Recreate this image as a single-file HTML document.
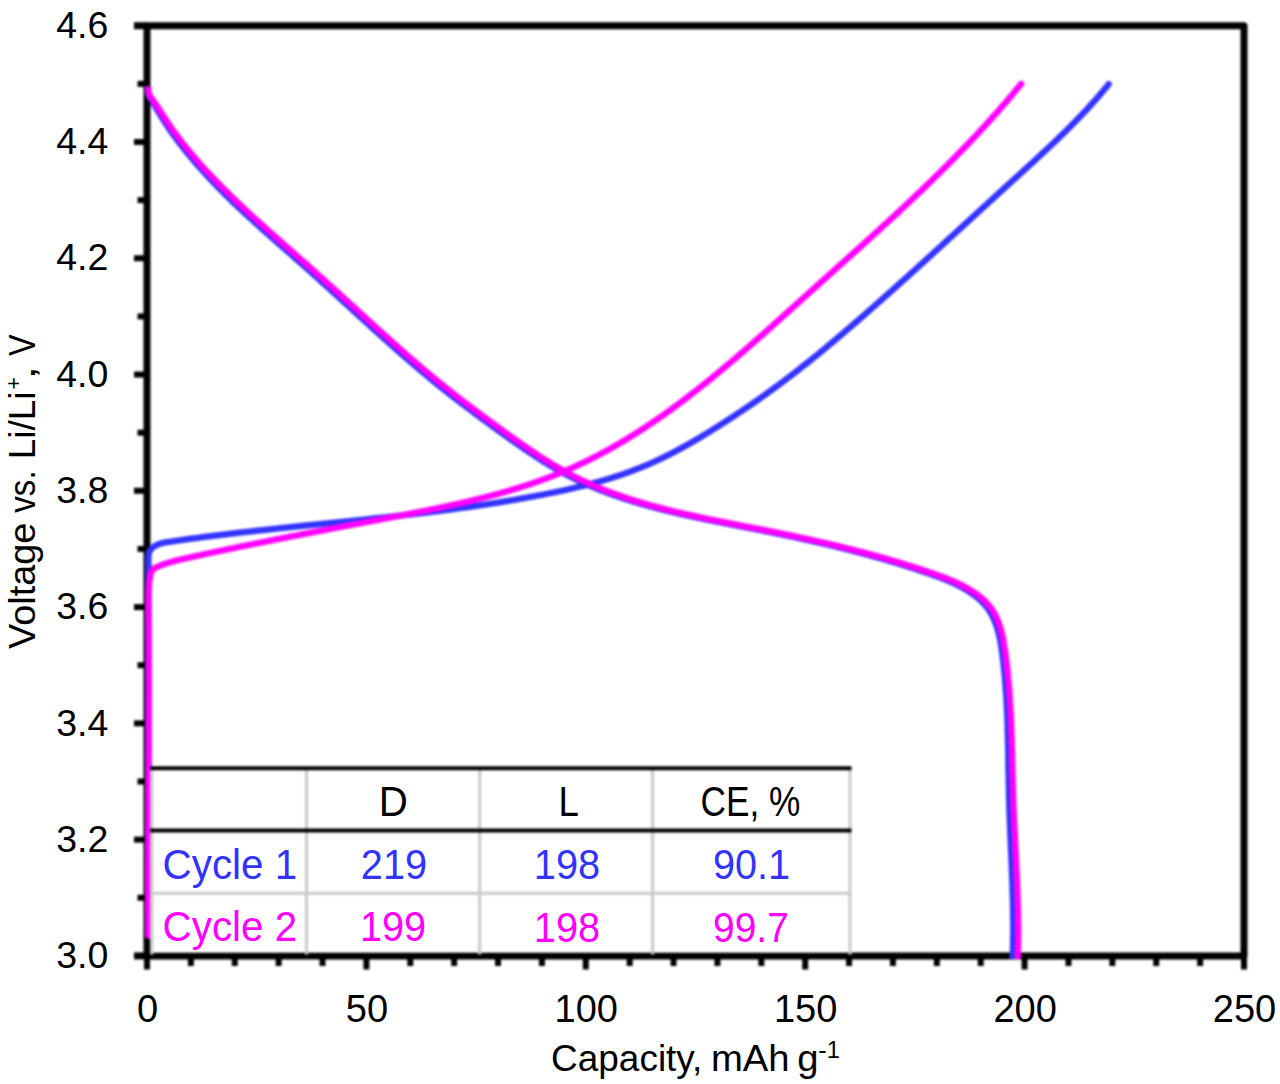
<!DOCTYPE html>
<html><head><meta charset="utf-8"><style>
html,body{margin:0;padding:0;background:#fff;}
body{width:1280px;height:1084px;overflow:hidden;position:relative;}
svg{position:absolute;left:0;top:0;}
#w{position:absolute;left:0;top:0;width:1280px;height:1084px;filter:blur(0.8px);}
text{font-family:"Liberation Sans", sans-serif;}
</style></head><body>
<div id="w">
<svg width="1280" height="1084" viewBox="0 0 1280 1084">
<rect x="0" y="0" width="1280" height="1084" fill="#fff"/>
<g stroke="#000" stroke-width="6" stroke-linecap="butt">
<line x1="137.5" y1="897.76" x2="147.0" y2="897.76"/><line x1="134" y1="839.62" x2="147.0" y2="839.62"/><line x1="137.5" y1="781.49" x2="147.0" y2="781.49"/><line x1="134" y1="723.35" x2="147.0" y2="723.35"/><line x1="137.5" y1="665.21" x2="147.0" y2="665.21"/><line x1="134" y1="607.08" x2="147.0" y2="607.08"/><line x1="137.5" y1="548.94" x2="147.0" y2="548.94"/><line x1="134" y1="490.80" x2="147.0" y2="490.80"/><line x1="137.5" y1="432.66" x2="147.0" y2="432.66"/><line x1="134" y1="374.53" x2="147.0" y2="374.53"/><line x1="137.5" y1="316.39" x2="147.0" y2="316.39"/><line x1="134" y1="258.25" x2="147.0" y2="258.25"/><line x1="137.5" y1="200.11" x2="147.0" y2="200.11"/><line x1="134" y1="141.97" x2="147.0" y2="141.97"/><line x1="137.5" y1="83.84" x2="147.0" y2="83.84"/><line x1="147.00" y1="955.9" x2="147.00" y2="969.5"/><line x1="190.88" y1="955.9" x2="190.88" y2="966"/><line x1="234.76" y1="955.9" x2="234.76" y2="966"/><line x1="278.64" y1="955.9" x2="278.64" y2="966"/><line x1="322.52" y1="955.9" x2="322.52" y2="966"/><line x1="366.40" y1="955.9" x2="366.40" y2="969.5"/><line x1="410.28" y1="955.9" x2="410.28" y2="966"/><line x1="454.16" y1="955.9" x2="454.16" y2="966"/><line x1="498.04" y1="955.9" x2="498.04" y2="966"/><line x1="541.92" y1="955.9" x2="541.92" y2="966"/><line x1="585.80" y1="955.9" x2="585.80" y2="969.5"/><line x1="629.68" y1="955.9" x2="629.68" y2="966"/><line x1="673.56" y1="955.9" x2="673.56" y2="966"/><line x1="717.44" y1="955.9" x2="717.44" y2="966"/><line x1="761.32" y1="955.9" x2="761.32" y2="966"/><line x1="805.20" y1="955.9" x2="805.20" y2="969.5"/><line x1="849.08" y1="955.9" x2="849.08" y2="966"/><line x1="892.96" y1="955.9" x2="892.96" y2="966"/><line x1="936.84" y1="955.9" x2="936.84" y2="966"/><line x1="980.72" y1="955.9" x2="980.72" y2="966"/><line x1="1024.60" y1="955.9" x2="1024.60" y2="969.5"/><line x1="1068.48" y1="955.9" x2="1068.48" y2="966"/><line x1="1112.36" y1="955.9" x2="1112.36" y2="966"/><line x1="1156.24" y1="955.9" x2="1156.24" y2="966"/><line x1="1200.12" y1="955.9" x2="1200.12" y2="966"/><line x1="1244.00" y1="955.9" x2="1244.00" y2="969.5"/>
</g>
<path d="M147.0,955.9 L147.0,25.7 L1244.0,25.7 L1244.0,955.9 Z" fill="none" stroke="#000" stroke-width="7" stroke-linejoin="round"/>
<line x1="134" y1="25.7" x2="147.0" y2="25.7" stroke="#000" stroke-width="7"/>
<line x1="134" y1="955.9" x2="147.0" y2="955.9" stroke="#000" stroke-width="7"/>
<g fill="none" stroke-width="6.3" stroke-linejoin="round">
<path d="M148.6,935.4 L148.6,933.7 L148.6,932.1 L148.6,930.4 L148.6,928.8 L148.6,927.1 L148.6,925.4 L148.6,923.8 L148.6,922.1 L148.6,920.4 L148.6,918.8 L148.6,917.1 L148.6,915.5 L148.6,913.8 L148.6,912.1 L148.6,910.5 L148.6,908.8 L148.6,907.2 L148.6,905.5 L148.6,903.8 L148.6,902.2 L148.6,900.5 L148.6,898.8 L148.6,897.2 L148.6,895.5 L148.6,893.9 L148.6,892.2 L148.6,890.5 L148.6,888.9 L148.6,887.2 L148.6,885.5 L148.6,883.9 L148.6,882.2 L148.6,880.6 L148.6,878.9 L148.6,877.2 L148.6,875.6 L148.6,873.9 L148.6,872.2 L148.6,870.6 L148.6,868.9 L148.6,867.3 L148.6,865.6 L148.6,863.9 L148.6,862.3 L148.6,860.6 L148.6,858.9 L148.6,857.3 L148.6,855.6 L148.6,854.0 L148.6,852.3 L148.6,850.6 L148.6,849.0 L148.6,847.3 L148.6,845.6 L148.6,844.0 L148.6,842.3 L148.6,840.7 L148.6,839.0 L148.6,837.3 L148.6,835.7 L148.6,834.0 L148.6,832.3 L148.6,830.7 L148.6,829.0 L148.6,827.4 L148.6,825.7 L148.6,824.0 L148.6,822.4 L148.6,820.7 L148.6,819.0 L148.6,817.4 L148.6,815.7 L148.6,814.0 L148.6,812.4 L148.6,810.7 L148.6,809.1 L148.6,807.4 L148.6,805.7 L148.6,804.1 L148.6,802.4 L148.6,800.7 L148.6,799.1 L148.6,797.4 L148.6,795.8 L148.6,794.1 L148.6,792.4 L148.6,790.8 L148.6,789.1 L148.6,787.4 L148.6,785.8 L148.6,784.1 L148.6,782.4 L148.6,780.8 L148.6,779.1 L148.6,777.5 L148.6,775.8 L148.6,774.1 L148.6,772.5 L148.6,770.8 L148.6,769.1 L148.6,767.5 L148.6,765.8 L148.6,764.2 L148.6,762.5 L148.6,760.8 L148.6,759.2 L148.6,757.5 L148.6,755.8 L148.6,754.2 L148.6,752.5 L148.6,750.8 L148.6,749.2 L148.6,747.5 L148.6,745.9 L148.6,744.2 L148.6,742.5 L148.6,740.9 L148.6,739.2 L148.6,737.5 L148.6,735.9 L148.6,734.2 L148.6,732.6 L148.6,730.9 L148.6,729.2 L148.6,727.6 L148.6,725.9 L148.6,724.2 L148.6,722.6 L148.6,720.9 L148.6,719.3 L148.6,717.6 L148.6,715.9 L148.6,714.3 L148.6,712.6 L148.6,710.9 L148.6,709.3 L148.6,707.6 L148.6,706.0 L148.6,704.3 L148.6,702.6 L148.6,701.0 L148.7,699.3 L148.7,697.6 L148.7,696.0 L148.7,694.3 L148.7,692.7 L148.7,691.0 L148.7,689.3 L148.7,687.7 L148.7,686.0 L148.7,684.3 L148.7,682.7 L148.7,681.0 L148.7,679.4 L148.7,677.7 L148.6,676.0 L148.6,674.4 L148.6,672.7 L148.6,671.1 L148.6,669.4 L148.6,667.7 L148.6,666.1 L148.6,664.4 L148.6,662.7 L148.6,661.1 L148.6,659.4 L148.6,657.8 L148.6,656.1 L148.6,654.4 L148.6,652.8 L148.6,651.1 L148.6,649.5 L148.6,647.8 L148.6,646.1 L148.6,644.5 L148.6,642.8 L148.6,641.2 L148.6,639.5 L148.6,637.8 L148.6,636.2 L148.6,634.5 L148.6,632.8 L148.6,631.2 L148.6,629.5 L148.6,627.9 L148.6,626.2 L148.6,624.5 L148.6,622.9 L148.6,621.2 L148.6,619.6 L148.6,617.9 L148.6,616.2 L148.6,614.6 L148.6,612.9 L148.6,611.3 L148.6,609.6 L148.6,607.9 L148.6,606.3 L148.6,604.6 L148.6,603.0 L148.6,601.3 L148.6,599.6 L148.6,598.0 L148.6,596.3 L148.6,594.7 L148.6,593.0 L148.6,591.3 L148.5,589.7 L148.5,588.0 L148.5,586.4 L148.5,584.7 L148.5,583.0 L148.5,581.3 L148.5,579.7 L148.5,578.0 L148.5,576.3 L148.5,574.6 L148.5,573.0 L148.5,571.3 L148.5,569.6 L148.4,567.9 L148.4,566.2 L148.4,564.5 L148.4,562.8 L148.4,561.1 L148.4,559.4 L148.4,557.6 L148.4,556.0 L148.6,554.3 L149.0,552.8 L149.5,551.4 L150.3,550.1 L151.2,548.9 L152.3,547.8 L153.5,546.9 L154.9,546.0 L156.2,545.3 L157.7,544.6 L159.2,544.1 L160.7,543.5 L162.3,543.1 L164.0,542.7 L165.6,542.4 L167.3,542.1 L169.0,541.8 L170.7,541.6 L172.4,541.3 L174.1,541.1 L175.8,540.8 L177.5,540.6 L179.2,540.4 L180.9,540.1 L182.6,539.9 L184.3,539.6 L185.9,539.4 L187.6,539.2 L189.3,539.0 L191.0,538.7 L192.7,538.5 L194.3,538.3 L196.0,538.1 L197.7,537.8 L199.4,537.6 L201.0,537.4 L202.7,537.2 L204.4,537.0 L206.0,536.7 L207.7,536.5 L209.4,536.3 L211.0,536.1 L212.7,535.9 L214.3,535.7 L216.0,535.5 L217.7,535.3 L219.3,535.1 L221.0,534.9 L222.6,534.7 L224.3,534.5 L225.9,534.3 L227.6,534.1 L229.2,533.9 L230.9,533.7 L232.5,533.5 L234.2,533.3 L235.8,533.1 L237.4,532.9 L239.1,532.7 L240.7,532.5 L242.4,532.4 L244.0,532.2 L245.7,532.0 L247.3,531.8 L248.9,531.6 L250.6,531.4 L252.2,531.3 L253.8,531.1 L255.5,530.9 L257.1,530.7 L258.7,530.5 L260.4,530.3 L262.0,530.2 L263.7,530.0 L265.3,529.8 L266.9,529.6 L268.6,529.5 L270.2,529.3 L271.8,529.1 L273.5,528.9 L275.1,528.8 L276.7,528.6 L278.4,528.4 L280.0,528.2 L281.6,528.1 L283.3,527.9 L284.9,527.7 L286.5,527.6 L288.2,527.4 L289.8,527.2 L291.4,527.1 L293.1,526.9 L294.7,526.7 L296.3,526.5 L298.0,526.4 L299.6,526.2 L301.2,526.0 L302.9,525.9 L304.5,525.7 L306.2,525.5 L307.8,525.4 L309.4,525.2 L311.1,525.0 L312.7,524.9 L314.4,524.7 L316.0,524.5 L317.7,524.4 L319.3,524.2 L320.9,524.0 L322.6,523.9 L324.2,523.7 L325.9,523.5 L327.5,523.4 L329.2,523.2 L330.8,523.0 L332.5,522.8 L334.1,522.7 L335.8,522.5 L337.4,522.3 L339.1,522.2 L340.7,522.0 L342.4,521.8 L344.0,521.7 L345.7,521.5 L347.3,521.3 L349.0,521.2 L350.6,521.0 L352.3,520.8 L353.9,520.6 L355.6,520.5 L357.2,520.3 L358.9,520.1 L360.5,519.9 L362.2,519.8 L363.8,519.6 L365.5,519.4 L367.1,519.2 L368.8,519.1 L370.4,518.9 L372.1,518.7 L373.7,518.5 L375.4,518.4 L377.1,518.2 L378.7,518.0 L380.4,517.8 L382.0,517.6 L383.7,517.5 L385.3,517.3 L387.0,517.1 L388.6,516.9 L390.3,516.7 L392.0,516.6 L393.6,516.4 L395.3,516.2 L396.9,516.0 L398.6,515.8 L400.2,515.6 L401.9,515.4 L403.6,515.2 L405.2,515.1 L406.9,514.9 L408.5,514.7 L410.2,514.5 L411.8,514.3 L413.5,514.1 L415.2,513.9 L416.8,513.7 L418.5,513.5 L420.1,513.3 L421.8,513.1 L423.4,512.9 L425.1,512.7 L426.7,512.5 L428.4,512.3 L430.1,512.1 L431.7,511.9 L433.4,511.7 L435.0,511.5 L436.7,511.3 L438.3,511.0 L440.0,510.8 L441.7,510.6 L443.3,510.4 L445.0,510.2 L446.6,510.0 L448.3,509.8 L449.9,509.5 L451.6,509.3 L453.2,509.1 L454.9,508.9 L456.5,508.7 L458.2,508.4 L459.9,508.2 L461.5,508.0 L463.2,507.7 L464.8,507.5 L466.5,507.3 L468.1,507.0 L469.8,506.8 L471.4,506.6 L473.1,506.3 L474.7,506.1 L476.4,505.9 L478.0,505.6 L479.7,505.4 L481.3,505.1 L483.0,504.9 L484.6,504.6 L486.3,504.4 L487.9,504.1 L489.6,503.9 L491.2,503.6 L492.9,503.4 L494.5,503.1 L496.2,502.8 L497.8,502.6 L499.4,502.3 L501.1,502.0 L502.7,501.8 L504.4,501.5 L506.0,501.2 L507.7,501.0 L509.3,500.7 L511.0,500.4 L512.6,500.1 L514.2,499.9 L515.9,499.6 L517.5,499.3 L519.2,499.0 L520.8,498.7 L522.4,498.4 L524.1,498.1 L525.7,497.8 L527.3,497.5 L529.0,497.2 L530.6,496.9 L532.3,496.6 L533.9,496.3 L535.5,496.0 L537.2,495.7 L538.8,495.4 L540.4,495.1 L542.1,494.8 L543.7,494.5 L545.3,494.2 L546.9,493.8 L548.6,493.5 L550.2,493.2 L551.8,492.9 L553.5,492.5 L555.1,492.2 L556.7,491.8 L558.3,491.5 L560.0,491.2 L561.6,490.8 L563.2,490.5 L564.8,490.1 L566.4,489.8 L568.0,489.4 L569.7,489.0 L571.3,488.7 L572.9,488.3 L574.5,487.9 L576.1,487.5 L577.7,487.2 L579.3,486.8 L580.9,486.4 L582.6,486.0 L584.2,485.6 L585.8,485.2 L587.4,484.8 L589.0,484.3 L590.6,483.9 L592.2,483.5 L593.8,483.1 L595.4,482.6 L596.9,482.2 L598.5,481.8 L600.1,481.3 L601.7,480.9 L603.3,480.4 L604.9,479.9 L606.5,479.5 L608.1,479.0 L609.6,478.5 L611.2,478.0 L612.8,477.5 L614.4,477.0 L615.9,476.5 L617.5,476.0 L619.1,475.5 L620.6,475.0 L622.2,474.4 L623.8,473.9 L625.3,473.3 L626.9,472.8 L628.4,472.2 L630.0,471.7 L631.5,471.1 L633.1,470.5 L634.6,469.9 L636.2,469.3 L637.7,468.7 L639.3,468.1 L640.8,467.5 L642.3,466.9 L643.9,466.3 L645.4,465.6 L646.9,465.0 L648.5,464.3 L650.0,463.7 L651.5,463.0 L653.0,462.3 L654.5,461.6 L656.1,460.9 L657.6,460.2 L659.1,459.5 L660.6,458.8 L662.1,458.1 L663.6,457.4 L665.1,456.6 L666.6,455.9 L668.1,455.1 L669.6,454.4 L671.0,453.6 L672.5,452.9 L674.0,452.1 L675.5,451.3 L677.0,450.5 L678.4,449.7 L679.9,448.9 L681.4,448.1 L682.9,447.3 L684.3,446.5 L685.8,445.7 L687.3,444.9 L688.7,444.0 L690.2,443.2 L691.6,442.4 L693.1,441.5 L694.5,440.7 L696.0,439.9 L697.4,439.0 L698.9,438.2 L700.3,437.3 L701.7,436.4 L703.2,435.6 L704.6,434.7 L706.0,433.8 L707.5,433.0 L708.9,432.1 L710.3,431.2 L711.7,430.3 L713.2,429.4 L714.6,428.6 L716.0,427.7 L717.4,426.8 L718.8,425.9 L720.2,425.0 L721.6,424.1 L723.0,423.2 L724.4,422.3 L725.8,421.4 L727.2,420.5 L728.6,419.6 L730.0,418.7 L731.4,417.8 L732.8,416.9 L734.2,416.0 L735.6,415.1 L736.9,414.1 L738.3,413.2 L739.7,412.3 L741.1,411.4 L742.5,410.5 L743.8,409.5 L745.2,408.6 L746.6,407.7 L747.9,406.7 L749.3,405.8 L750.7,404.9 L752.0,403.9 L753.4,403.0 L754.7,402.0 L756.1,401.1 L757.5,400.2 L758.8,399.2 L760.2,398.3 L761.5,397.3 L762.9,396.3 L764.2,395.4 L765.5,394.4 L766.9,393.5 L768.2,392.5 L769.6,391.5 L770.9,390.6 L772.2,389.6 L773.6,388.6 L774.9,387.6 L776.2,386.7 L777.6,385.7 L778.9,384.7 L780.2,383.7 L781.5,382.7 L782.9,381.7 L784.2,380.8 L785.5,379.8 L786.8,378.8 L788.1,377.8 L789.5,376.8 L790.8,375.8 L792.1,374.8 L793.4,373.7 L794.7,372.7 L796.0,371.7 L797.3,370.7 L798.6,369.7 L799.9,368.7 L801.2,367.6 L802.5,366.6 L803.8,365.6 L805.1,364.6 L806.4,363.5 L807.7,362.5 L809.0,361.5 L810.3,360.4 L811.6,359.4 L812.9,358.3 L814.2,357.3 L815.5,356.3 L816.8,355.2 L818.1,354.2 L819.4,353.1 L820.6,352.0 L821.9,351.0 L823.2,349.9 L824.5,348.9 L825.8,347.8 L827.1,346.8 L828.3,345.7 L829.6,344.6 L830.9,343.6 L832.2,342.5 L833.4,341.4 L834.7,340.3 L836.0,339.3 L837.3,338.2 L838.5,337.1 L839.8,336.0 L841.1,335.0 L842.3,333.9 L843.6,332.8 L844.9,331.7 L846.1,330.6 L847.4,329.6 L848.7,328.5 L849.9,327.4 L851.2,326.3 L852.5,325.2 L853.7,324.1 L855.0,323.0 L856.2,322.0 L857.5,320.9 L858.7,319.8 L860.0,318.7 L861.3,317.6 L862.5,316.5 L863.8,315.4 L865.0,314.3 L866.3,313.2 L867.5,312.1 L868.8,311.0 L870.0,309.9 L871.3,308.8 L872.5,307.7 L873.8,306.6 L875.0,305.5 L876.3,304.4 L877.5,303.3 L878.8,302.2 L880.0,301.1 L881.3,300.0 L882.5,298.9 L883.7,297.8 L885.0,296.7 L886.2,295.6 L887.5,294.5 L888.7,293.4 L889.9,292.3 L891.2,291.2 L892.4,290.1 L893.7,289.0 L894.9,287.9 L896.1,286.8 L897.4,285.7 L898.6,284.5 L899.9,283.4 L901.1,282.3 L902.3,281.2 L903.6,280.1 L904.8,279.0 L906.0,277.9 L907.3,276.8 L908.5,275.7 L909.7,274.6 L911.0,273.4 L912.2,272.3 L913.4,271.2 L914.7,270.1 L915.9,269.0 L917.1,267.9 L918.3,266.8 L919.6,265.6 L920.8,264.5 L922.0,263.4 L923.3,262.3 L924.5,261.2 L925.7,260.1 L927.0,259.0 L928.2,257.8 L929.4,256.7 L930.6,255.6 L931.9,254.5 L933.1,253.4 L934.3,252.3 L935.5,251.1 L936.8,250.0 L938.0,248.9 L939.2,247.8 L940.4,246.7 L941.7,245.5 L942.9,244.4 L944.1,243.3 L945.3,242.2 L946.6,241.1 L947.8,239.9 L949.0,238.8 L950.2,237.7 L951.5,236.6 L952.7,235.5 L953.9,234.3 L955.1,233.2 L956.4,232.1 L957.6,231.0 L958.8,229.9 L960.0,228.7 L961.3,227.6 L962.5,226.5 L963.7,225.4 L964.9,224.2 L966.2,223.1 L967.4,222.0 L968.6,220.9 L969.8,219.8 L971.1,218.6 L972.3,217.5 L973.5,216.4 L974.7,215.3 L976.0,214.2 L977.2,213.0 L978.4,211.9 L979.6,210.8 L980.9,209.7 L982.1,208.5 L983.3,207.4 L984.5,206.3 L985.8,205.2 L987.0,204.1 L988.2,202.9 L989.4,201.8 L990.7,200.7 L991.9,199.6 L993.1,198.4 L994.3,197.3 L995.6,196.2 L996.8,195.1 L998.0,194.0 L999.2,192.8 L1000.5,191.7 L1001.7,190.6 L1002.9,189.5 L1004.2,188.4 L1005.4,187.2 L1006.6,186.1 L1007.9,185.0 L1009.1,183.9 L1010.3,182.8 L1011.5,181.6 L1012.8,180.5 L1014.0,179.4 L1015.2,178.3 L1016.5,177.2 L1017.7,176.0 L1018.9,174.9 L1020.2,173.8 L1021.4,172.7 L1022.6,171.6 L1023.9,170.4 L1025.1,169.3 L1026.3,168.2 L1027.5,167.1 L1028.8,166.0 L1030.0,164.8 L1031.2,163.7 L1032.5,162.6 L1033.7,161.5 L1034.9,160.3 L1036.1,159.2 L1037.4,158.1 L1038.6,156.9 L1039.8,155.8 L1041.0,154.7 L1042.2,153.5 L1043.5,152.4 L1044.7,151.3 L1045.9,150.1 L1047.1,149.0 L1048.3,147.9 L1049.5,146.7 L1050.7,145.6 L1051.9,144.4 L1053.2,143.3 L1054.4,142.2 L1055.6,141.0 L1056.8,139.9 L1058.0,138.7 L1059.1,137.5 L1060.3,136.4 L1061.5,135.2 L1062.7,134.1 L1063.9,132.9 L1065.1,131.7 L1066.3,130.6 L1067.5,129.4 L1068.6,128.2 L1069.8,127.1 L1071.0,125.9 L1072.1,124.7 L1073.3,123.5 L1074.5,122.3 L1075.6,121.2 L1076.8,120.0 L1077.9,118.8 L1079.1,117.6 L1080.2,116.4 L1081.4,115.2 L1082.5,114.0 L1083.7,112.8 L1084.8,111.6 L1085.9,110.4 L1087.1,109.2 L1088.2,107.9 L1089.3,106.7 L1090.4,105.5 L1091.5,104.3 L1092.6,103.0 L1093.7,101.8 L1094.8,100.6 L1095.9,99.3 L1097.0,98.1 L1098.1,96.8 L1099.2,95.6 L1100.3,94.3 L1101.3,93.0 L1102.4,91.8 L1103.5,90.5 L1104.5,89.2 L1105.6,88.0 L1106.7,86.7 L1107.7,85.4 L1108.7,84.1" stroke="#3333ff" stroke-linecap="round"/>
<path d="M148.6,86.5 L148.2,88.3 L148.0,89.9 L148.0,91.5 L148.1,93.0 L148.5,94.4 L149.0,95.7 L149.6,97.0 L150.3,98.2 L151.1,99.4 L151.9,100.6 L152.6,101.9 L153.4,103.1 L154.1,104.4 L154.9,105.6 L155.6,106.9 L156.3,108.2 L157.0,109.5 L157.8,110.8 L158.6,112.1 L159.4,113.4 L160.2,114.7 L160.9,116.0 L161.7,117.3 L162.6,118.6 L163.4,119.9 L164.2,121.1 L165.0,122.4 L165.8,123.7 L166.7,125.0 L167.5,126.2 L168.4,127.5 L169.2,128.8 L170.1,130.0 L170.9,131.3 L171.8,132.5 L172.7,133.7 L173.6,135.0 L174.5,136.2 L175.4,137.4 L176.2,138.7 L177.2,139.9 L178.1,141.1 L179.0,142.3 L179.9,143.5 L180.8,144.7 L181.7,145.9 L182.7,147.1 L183.6,148.3 L184.6,149.5 L185.5,150.7 L186.4,151.8 L187.4,153.0 L188.4,154.2 L189.3,155.4 L190.3,156.5 L191.3,157.7 L192.2,158.8 L193.2,160.0 L194.2,161.1 L195.2,162.3 L196.2,163.4 L197.2,164.6 L198.2,165.7 L199.2,166.8 L200.2,168.0 L201.2,169.1 L202.2,170.2 L203.2,171.4 L204.2,172.5 L205.3,173.6 L206.3,174.7 L207.3,175.8 L208.3,176.9 L209.4,178.0 L210.4,179.1 L211.4,180.2 L212.5,181.3 L213.5,182.4 L214.6,183.5 L215.6,184.6 L216.7,185.7 L217.7,186.8 L218.8,187.9 L219.8,189.0 L220.9,190.0 L222.0,191.1 L223.0,192.2 L224.1,193.3 L225.2,194.3 L226.2,195.4 L227.3,196.5 L228.4,197.5 L229.5,198.6 L230.5,199.7 L231.6,200.7 L232.7,201.8 L233.8,202.8 L235.0,203.9 L236.1,205.0 L237.2,206.0 L238.3,207.1 L239.4,208.1 L240.5,209.1 L241.7,210.2 L242.8,211.2 L243.9,212.3 L245.0,213.3 L246.1,214.4 L247.3,215.4 L248.4,216.4 L249.5,217.5 L250.7,218.5 L251.8,219.5 L252.9,220.6 L254.1,221.6 L255.2,222.6 L256.3,223.7 L257.5,224.7 L258.6,225.7 L259.8,226.7 L260.9,227.8 L262.0,228.8 L263.2,229.8 L264.3,230.8 L265.5,231.9 L266.6,232.9 L267.8,233.9 L268.9,234.9 L270.1,235.9 L271.2,237.0 L272.4,238.0 L273.5,239.0 L274.7,240.0 L275.8,241.0 L277.0,242.0 L278.1,243.1 L279.3,244.1 L280.4,245.1 L281.6,246.1 L282.7,247.1 L283.9,248.1 L285.0,249.2 L286.2,250.2 L287.3,251.2 L288.5,252.2 L289.6,253.2 L290.8,254.2 L292.0,255.2 L293.1,256.3 L294.3,257.3 L295.4,258.3 L296.6,259.3 L297.7,260.3 L298.9,261.3 L300.0,262.4 L301.2,263.4 L302.3,264.4 L303.5,265.4 L304.6,266.4 L305.8,267.5 L306.9,268.5 L308.1,269.5 L309.2,270.5 L310.4,271.5 L311.5,272.6 L312.6,273.6 L313.8,274.6 L314.9,275.6 L316.1,276.7 L317.2,277.7 L318.4,278.7 L319.5,279.7 L320.6,280.8 L321.8,281.8 L322.9,282.8 L324.1,283.9 L325.2,284.9 L326.3,285.9 L327.5,287.0 L328.6,288.0 L329.7,289.0 L330.9,290.1 L332.0,291.1 L333.2,292.1 L334.3,293.2 L335.4,294.2 L336.6,295.2 L337.7,296.3 L338.8,297.3 L340.0,298.3 L341.1,299.4 L342.2,300.4 L343.4,301.4 L344.5,302.5 L345.6,303.5 L346.8,304.5 L347.9,305.6 L349.0,306.6 L350.2,307.6 L351.3,308.7 L352.4,309.7 L353.5,310.8 L354.7,311.8 L355.8,312.8 L356.9,313.9 L358.1,314.9 L359.2,315.9 L360.3,317.0 L361.5,318.0 L362.6,319.0 L363.7,320.1 L364.9,321.1 L366.0,322.1 L367.1,323.2 L368.3,324.2 L369.4,325.2 L370.5,326.3 L371.7,327.3 L372.8,328.3 L373.9,329.3 L375.1,330.4 L376.2,331.4 L377.4,332.4 L378.5,333.5 L379.6,334.5 L380.8,335.5 L381.9,336.5 L383.0,337.6 L384.2,338.6 L385.3,339.6 L386.5,340.6 L387.6,341.6 L388.7,342.7 L389.9,343.7 L391.0,344.7 L392.2,345.7 L393.3,346.7 L394.5,347.8 L395.6,348.8 L396.8,349.8 L397.9,350.8 L399.1,351.8 L400.2,352.8 L401.4,353.8 L402.5,354.8 L403.7,355.8 L404.8,356.8 L406.0,357.9 L407.1,358.9 L408.3,359.9 L409.4,360.9 L410.6,361.9 L411.7,362.9 L412.9,363.8 L414.1,364.8 L415.2,365.8 L416.4,366.8 L417.6,367.8 L418.7,368.8 L419.9,369.8 L421.1,370.8 L422.2,371.8 L423.4,372.7 L424.6,373.7 L425.7,374.7 L426.9,375.7 L428.1,376.7 L429.3,377.6 L430.4,378.6 L431.6,379.6 L432.8,380.6 L434.0,381.5 L435.2,382.5 L436.4,383.4 L437.5,384.4 L438.7,385.4 L439.9,386.3 L441.1,387.3 L442.3,388.2 L443.5,389.2 L444.7,390.1 L445.9,391.1 L447.1,392.0 L448.3,393.0 L449.5,393.9 L450.7,394.9 L451.9,395.8 L453.1,396.8 L454.3,397.7 L455.5,398.6 L456.7,399.6 L458.0,400.5 L459.2,401.4 L460.4,402.4 L461.6,403.3 L462.8,404.2 L464.0,405.1 L465.3,406.1 L466.5,407.0 L467.7,407.9 L468.9,408.8 L470.1,409.7 L471.4,410.7 L472.6,411.6 L473.8,412.5 L475.0,413.4 L476.3,414.3 L477.5,415.2 L478.7,416.2 L480.0,417.1 L481.2,418.0 L482.4,418.9 L483.7,419.8 L484.9,420.7 L486.2,421.6 L487.4,422.5 L488.6,423.4 L489.9,424.3 L491.1,425.2 L492.4,426.2 L493.6,427.1 L494.9,428.0 L496.1,428.9 L497.4,429.8 L498.6,430.7 L499.8,431.6 L501.1,432.5 L502.4,433.4 L503.6,434.3 L504.9,435.2 L506.1,436.1 L507.4,437.0 L508.6,437.9 L509.9,438.8 L511.1,439.7 L512.4,440.5 L513.7,441.4 L514.9,442.3 L516.2,443.2 L517.4,444.1 L518.7,445.0 L520.0,445.9 L521.2,446.7 L522.5,447.6 L523.8,448.5 L525.1,449.4 L526.3,450.2 L527.6,451.1 L528.9,452.0 L530.2,452.8 L531.5,453.7 L532.7,454.5 L534.0,455.4 L535.3,456.2 L536.6,457.1 L537.9,457.9 L539.2,458.7 L540.5,459.6 L541.8,460.4 L543.1,461.2 L544.4,462.0 L545.7,462.8 L547.0,463.6 L548.3,464.4 L549.6,465.2 L551.0,466.0 L552.3,466.8 L553.6,467.5 L554.9,468.3 L556.3,469.1 L557.6,469.8 L558.9,470.6 L560.2,471.3 L561.6,472.0 L562.9,472.8 L564.3,473.5 L565.6,474.2 L567.0,474.9 L568.3,475.6 L569.7,476.3 L571.0,477.0 L572.4,477.7 L573.8,478.3 L575.1,479.0 L576.5,479.7 L577.9,480.3 L579.2,481.0 L580.6,481.6 L582.0,482.2 L583.4,482.9 L584.8,483.5 L586.2,484.1 L587.5,484.7 L588.9,485.3 L590.3,485.9 L591.7,486.5 L593.1,487.1 L594.5,487.7 L595.9,488.3 L597.3,488.8 L598.7,489.4 L600.2,490.0 L601.6,490.5 L603.0,491.1 L604.4,491.6 L605.8,492.1 L607.2,492.7 L608.7,493.2 L610.1,493.7 L611.5,494.2 L613.0,494.8 L614.4,495.3 L615.8,495.8 L617.3,496.3 L618.7,496.8 L620.1,497.2 L621.6,497.7 L623.0,498.2 L624.5,498.7 L625.9,499.2 L627.4,499.6 L628.8,500.1 L630.3,500.5 L631.7,501.0 L633.2,501.4 L634.7,501.9 L636.1,502.3 L637.6,502.8 L639.0,503.2 L640.5,503.6 L642.0,504.0 L643.4,504.5 L644.9,504.9 L646.4,505.3 L647.9,505.7 L649.3,506.1 L650.8,506.5 L652.3,506.9 L653.8,507.3 L655.2,507.7 L656.7,508.1 L658.2,508.5 L659.7,508.9 L661.2,509.2 L662.7,509.6 L664.1,510.0 L665.6,510.4 L667.1,510.7 L668.6,511.1 L670.1,511.5 L671.6,511.8 L673.1,512.2 L674.6,512.5 L676.1,512.9 L677.6,513.2 L679.1,513.6 L680.6,513.9 L682.1,514.3 L683.6,514.6 L685.1,514.9 L686.6,515.3 L688.1,515.6 L689.6,515.9 L691.1,516.3 L692.6,516.6 L694.1,516.9 L695.6,517.2 L697.1,517.6 L698.6,517.9 L700.1,518.2 L701.6,518.5 L703.1,518.8 L704.7,519.1 L706.2,519.5 L707.7,519.8 L709.2,520.1 L710.7,520.4 L712.2,520.7 L713.7,521.0 L715.2,521.3 L716.8,521.6 L718.3,521.9 L719.8,522.2 L721.3,522.5 L722.8,522.8 L724.3,523.1 L725.8,523.4 L727.4,523.7 L728.9,524.0 L730.4,524.3 L731.9,524.6 L733.4,524.9 L734.9,525.2 L736.4,525.5 L738.0,525.8 L739.5,526.1 L741.0,526.4 L742.5,526.7 L744.0,527.0 L745.5,527.3 L747.1,527.5 L748.6,527.8 L750.1,528.1 L751.6,528.4 L753.1,528.7 L754.6,529.0 L756.1,529.3 L757.6,529.6 L759.2,529.9 L760.7,530.2 L762.2,530.5 L763.7,530.8 L765.2,531.1 L766.7,531.4 L768.2,531.7 L769.7,532.0 L771.2,532.3 L772.8,532.6 L774.3,532.9 L775.8,533.2 L777.3,533.6 L778.8,533.9 L780.3,534.2 L781.8,534.5 L783.3,534.8 L784.8,535.1 L786.3,535.4 L787.8,535.7 L789.3,536.1 L790.8,536.4 L792.3,536.7 L793.8,537.0 L795.3,537.3 L796.8,537.7 L798.3,538.0 L799.8,538.3 L801.3,538.6 L802.8,539.0 L804.3,539.3 L805.8,539.6 L807.3,539.9 L808.8,540.3 L810.3,540.6 L811.8,541.0 L813.3,541.3 L814.8,541.6 L816.3,542.0 L817.7,542.3 L819.2,542.6 L820.7,543.0 L822.2,543.3 L823.7,543.7 L825.2,544.0 L826.7,544.4 L828.2,544.7 L829.7,545.1 L831.1,545.4 L832.6,545.8 L834.1,546.2 L835.6,546.5 L837.1,546.9 L838.6,547.2 L840.1,547.6 L841.5,548.0 L843.0,548.3 L844.5,548.7 L846.0,549.1 L847.5,549.4 L848.9,549.8 L850.4,550.2 L851.9,550.6 L853.4,551.0 L854.8,551.3 L856.3,551.7 L857.8,552.1 L859.3,552.5 L860.7,552.9 L862.2,553.3 L863.7,553.7 L865.2,554.1 L866.6,554.5 L868.1,554.9 L869.6,555.3 L871.0,555.7 L872.5,556.1 L874.0,556.5 L875.5,556.9 L876.9,557.3 L878.4,557.7 L879.9,558.1 L881.3,558.5 L882.8,559.0 L884.2,559.4 L885.7,559.8 L887.2,560.2 L888.6,560.7 L890.1,561.1 L891.6,561.5 L893.0,562.0 L894.5,562.4 L896.0,562.8 L897.4,563.3 L898.9,563.7 L900.4,564.2 L901.8,564.6 L903.3,565.1 L904.7,565.5 L906.2,566.0 L907.7,566.5 L909.1,566.9 L910.6,567.4 L912.0,567.8 L913.5,568.3 L915.0,568.8 L916.4,569.3 L917.9,569.7 L919.3,570.2 L920.8,570.7 L922.2,571.2 L923.7,571.7 L925.1,572.2 L926.6,572.7 L928.0,573.1 L929.5,573.6 L930.9,574.2 L932.4,574.7 L933.8,575.2 L935.3,575.7 L936.7,576.2 L938.1,576.8 L939.6,577.3 L941.0,577.8 L942.4,578.4 L943.9,579.0 L945.3,579.6 L946.7,580.1 L948.2,580.7 L949.6,581.4 L951.0,582.0 L952.4,582.6 L953.8,583.3 L955.2,584.0 L956.6,584.6 L958.0,585.3 L959.4,586.1 L960.8,586.8 L962.2,587.5 L963.6,588.3 L965.0,589.1 L966.3,589.9 L967.7,590.7 L969.0,591.6 L970.4,592.5 L971.7,593.4 L973.0,594.3 L974.3,595.2 L975.6,596.2 L976.8,597.1 L978.0,598.1 L979.2,599.1 L980.4,600.2 L981.5,601.3 L982.6,602.3 L983.7,603.5 L984.7,604.6 L985.7,605.7 L986.7,606.9 L987.6,608.1 L988.4,609.4 L989.3,610.6 L990.1,611.9 L990.8,613.2 L991.6,614.5 L992.3,615.8 L993.0,617.1 L993.6,618.5 L994.2,619.9 L994.8,621.3 L995.3,622.7 L995.9,624.1 L996.4,625.5 L996.9,627.0 L997.3,628.4 L997.7,629.9 L998.2,631.4 L998.6,632.8 L998.9,634.3 L999.3,635.8 L999.6,637.4 L1000.0,638.9 L1000.3,640.4 L1000.5,641.9 L1000.8,643.5 L1001.1,645.0 L1001.3,646.5 L1001.5,648.1 L1001.7,649.6 L1001.9,651.2 L1002.2,652.7 L1002.4,654.2 L1002.6,655.8 L1002.7,657.3 L1002.9,658.9 L1003.1,660.4 L1003.3,661.9 L1003.5,663.5 L1003.6,665.0 L1003.8,666.5 L1004.0,668.1 L1004.1,669.6 L1004.3,671.1 L1004.4,672.7 L1004.6,674.2 L1004.7,675.7 L1004.9,677.3 L1005.0,678.8 L1005.1,680.3 L1005.2,681.9 L1005.4,683.4 L1005.5,684.9 L1005.6,686.5 L1005.7,688.0 L1005.8,689.5 L1005.9,691.0 L1006.0,692.6 L1006.1,694.1 L1006.2,695.6 L1006.3,697.1 L1006.4,698.7 L1006.5,700.2 L1006.6,701.7 L1006.7,703.2 L1006.7,704.8 L1006.8,706.3 L1006.9,707.8 L1007.0,709.3 L1007.0,710.9 L1007.1,712.4 L1007.2,713.9 L1007.2,715.4 L1007.3,717.0 L1007.3,718.5 L1007.4,720.0 L1007.4,721.5 L1007.5,723.0 L1007.5,724.6 L1007.6,726.1 L1007.6,727.6 L1007.7,729.1 L1007.7,730.7 L1007.8,732.2 L1007.8,733.7 L1007.8,735.2 L1007.9,736.7 L1007.9,738.3 L1008.0,739.8 L1008.0,741.3 L1008.0,742.8 L1008.1,744.4 L1008.1,745.9 L1008.1,747.4 L1008.1,748.9 L1008.2,750.4 L1008.2,752.0 L1008.2,753.5 L1008.3,755.0 L1008.3,756.5 L1008.3,758.1 L1008.3,759.6 L1008.4,761.1 L1008.4,762.6 L1008.4,764.2 L1008.4,765.7 L1008.5,767.2 L1008.5,768.7 L1008.5,770.3 L1008.5,771.8 L1008.6,773.3 L1008.6,774.8 L1008.6,776.4 L1008.7,777.9 L1008.7,779.4 L1008.7,780.9 L1008.7,782.5 L1008.8,784.0 L1008.8,785.5 L1008.8,787.1 L1008.9,788.6 L1008.9,790.1 L1008.9,791.6 L1009.0,793.2 L1009.0,794.7 L1009.0,796.2 L1009.1,797.8 L1009.1,799.3 L1009.2,800.8 L1009.2,802.4 L1009.3,803.9 L1009.3,805.4 L1009.3,807.0 L1009.4,808.5 L1009.4,810.1 L1009.5,811.6 L1009.6,813.1 L1009.6,814.7 L1009.7,816.2 L1009.7,817.8 L1009.8,819.3 L1009.8,820.8 L1009.9,822.4 L1010.0,823.9 L1010.0,825.5 L1010.1,827.0 L1010.1,828.5 L1010.2,830.1 L1010.3,831.6 L1010.3,833.2 L1010.4,834.7 L1010.5,836.2 L1010.5,837.8 L1010.6,839.3 L1010.6,840.9 L1010.7,842.4 L1010.8,844.0 L1010.8,845.5 L1010.9,847.1 L1011.0,848.6 L1011.0,850.1 L1011.1,851.7 L1011.2,853.2 L1011.2,854.8 L1011.3,856.3 L1011.4,857.9 L1011.4,859.4 L1011.5,860.9 L1011.6,862.5 L1011.6,864.0 L1011.7,865.6 L1011.7,867.1 L1011.8,868.7 L1011.9,870.2 L1011.9,871.8 L1012.0,873.3 L1012.0,874.8 L1012.1,876.4 L1012.2,877.9 L1012.2,879.5 L1012.3,881.0 L1012.3,882.6 L1012.4,884.1 L1012.4,885.6 L1012.5,887.2 L1012.5,888.7 L1012.6,890.3 L1012.6,891.8 L1012.7,893.3 L1012.7,894.9 L1012.7,896.4 L1012.8,897.9 L1012.8,899.5 L1012.9,901.0 L1012.9,902.6 L1012.9,904.1 L1013.0,905.6 L1013.0,907.2 L1013.0,908.7 L1013.0,910.2 L1013.1,911.8 L1013.1,913.3 L1013.1,914.8 L1013.1,916.4 L1013.1,917.9 L1013.2,919.4 L1013.2,921.0 L1013.2,922.5 L1013.2,924.0 L1013.2,925.5 L1013.2,927.1 L1013.2,928.6 L1013.2,930.1 L1013.2,931.6 L1013.2,933.2 L1013.2,934.7 L1013.1,936.2 L1013.1,937.7 L1013.1,939.3 L1013.1,940.8 L1013.1,942.3 L1013.0,943.8 L1013.0,945.3 L1013.0,946.8 L1012.9,948.4 L1012.9,949.9 L1012.8,951.4 L1012.8,952.9 L1012.7,954.4 L1012.7,955.9 L1012.6,957.4 L1012.6,958.9" stroke="#3333ff" stroke-linecap="butt"/>
<path d="M148.3,935.4 L148.3,933.9 L148.3,932.3 L148.3,930.8 L148.3,929.2 L148.3,927.6 L148.3,926.1 L148.3,924.5 L148.3,923.0 L148.3,921.4 L148.3,919.9 L148.3,918.3 L148.3,916.8 L148.3,915.2 L148.3,913.7 L148.2,912.1 L148.2,910.6 L148.2,909.0 L148.2,907.5 L148.2,905.9 L148.2,904.4 L148.2,902.8 L148.2,901.3 L148.2,899.7 L148.2,898.2 L148.2,896.6 L148.2,895.1 L148.2,893.5 L148.2,892.0 L148.2,890.4 L148.2,888.9 L148.2,887.3 L148.2,885.8 L148.2,884.2 L148.2,882.7 L148.2,881.1 L148.2,879.6 L148.2,878.0 L148.2,876.5 L148.2,874.9 L148.2,873.4 L148.2,871.8 L148.2,870.3 L148.2,868.7 L148.2,867.2 L148.2,865.6 L148.2,864.1 L148.2,862.5 L148.2,861.0 L148.2,859.4 L148.2,857.9 L148.3,856.3 L148.3,854.8 L148.3,853.2 L148.3,851.7 L148.3,850.1 L148.3,848.6 L148.3,847.0 L148.3,845.5 L148.3,843.9 L148.3,842.4 L148.3,840.8 L148.3,839.3 L148.3,837.7 L148.3,836.2 L148.3,834.6 L148.3,833.1 L148.3,831.5 L148.3,830.0 L148.3,828.4 L148.3,826.9 L148.3,825.3 L148.4,823.8 L148.4,822.2 L148.4,820.7 L148.4,819.1 L148.4,817.6 L148.4,816.0 L148.4,814.5 L148.4,812.9 L148.4,811.4 L148.4,809.8 L148.4,808.3 L148.4,806.8 L148.4,805.2 L148.4,803.7 L148.4,802.1 L148.4,800.6 L148.5,799.0 L148.5,797.5 L148.5,795.9 L148.5,794.4 L148.5,792.8 L148.5,791.3 L148.5,789.7 L148.5,788.2 L148.5,786.6 L148.5,785.1 L148.5,783.5 L148.5,782.0 L148.5,780.4 L148.5,778.9 L148.5,777.3 L148.5,775.8 L148.6,774.2 L148.6,772.7 L148.6,771.1 L148.6,769.6 L148.6,768.0 L148.6,766.5 L148.6,764.9 L148.6,763.4 L148.6,761.8 L148.6,760.3 L148.6,758.8 L148.6,757.2 L148.6,755.7 L148.6,754.1 L148.6,752.6 L148.6,751.0 L148.7,749.5 L148.7,747.9 L148.7,746.4 L148.7,744.8 L148.7,743.3 L148.7,741.7 L148.7,740.2 L148.7,738.6 L148.7,737.1 L148.7,735.5 L148.7,734.0 L148.7,732.4 L148.7,730.9 L148.7,729.3 L148.7,727.8 L148.7,726.2 L148.7,724.7 L148.7,723.1 L148.7,721.6 L148.7,720.0 L148.7,718.5 L148.7,716.9 L148.8,715.4 L148.8,713.8 L148.8,712.3 L148.8,710.7 L148.8,709.2 L148.8,707.6 L148.8,706.1 L148.8,704.5 L148.8,703.0 L148.8,701.4 L148.8,699.9 L148.8,698.3 L148.8,696.8 L148.8,695.2 L148.8,693.7 L148.8,692.1 L148.8,690.6 L148.8,689.0 L148.8,687.5 L148.8,685.9 L148.8,684.4 L148.8,682.8 L148.8,681.3 L148.8,679.7 L148.8,678.2 L148.8,676.6 L148.8,675.1 L148.8,673.5 L148.8,672.0 L148.8,670.4 L148.8,668.9 L148.8,667.3 L148.8,665.8 L148.8,664.2 L148.7,662.7 L148.7,661.1 L148.7,659.6 L148.7,658.0 L148.7,656.5 L148.7,654.9 L148.7,653.3 L148.7,651.8 L148.7,650.2 L148.7,648.7 L148.7,647.1 L148.7,645.6 L148.7,644.0 L148.7,642.5 L148.7,640.9 L148.7,639.4 L148.6,637.8 L148.6,636.3 L148.6,634.7 L148.6,633.2 L148.6,631.6 L148.6,630.0 L148.6,628.5 L148.6,626.9 L148.6,625.4 L148.6,623.8 L148.5,622.3 L148.5,620.7 L148.5,619.2 L148.5,617.6 L148.5,616.1 L148.5,614.5 L148.5,612.9 L148.4,611.4 L148.4,609.8 L148.4,608.3 L148.4,606.7 L148.4,605.2 L148.4,603.6 L148.4,602.1 L148.4,600.5 L148.4,599.0 L148.4,597.4 L148.4,595.9 L148.5,594.3 L148.5,592.8 L148.6,591.2 L148.7,589.7 L148.7,588.1 L148.9,586.6 L149.0,585.1 L149.1,583.5 L149.3,582.0 L149.5,580.5 L149.7,579.0 L149.9,577.5 L150.2,576.0 L150.5,574.5 L150.8,573.0 L151.4,571.7 L152.1,570.4 L153.1,569.4 L154.3,568.5 L155.6,567.7 L157.1,567.0 L158.6,566.3 L160.1,565.7 L161.6,565.1 L163.2,564.6 L164.7,564.0 L166.2,563.5 L167.7,563.0 L169.2,562.5 L170.7,562.1 L172.3,561.7 L173.8,561.2 L175.3,560.8 L176.8,560.4 L178.3,560.0 L179.9,559.7 L181.4,559.3 L182.9,559.0 L184.4,558.6 L185.9,558.3 L187.4,557.9 L189.0,557.6 L190.5,557.3 L192.0,556.9 L193.5,556.6 L195.0,556.3 L196.5,555.9 L198.1,555.6 L199.6,555.3 L201.1,555.0 L202.6,554.6 L204.1,554.3 L205.6,554.0 L207.1,553.7 L208.6,553.3 L210.2,553.0 L211.7,552.7 L213.2,552.4 L214.7,552.1 L216.2,551.7 L217.7,551.4 L219.2,551.1 L220.7,550.8 L222.3,550.5 L223.8,550.2 L225.3,549.8 L226.8,549.5 L228.3,549.2 L229.8,548.9 L231.3,548.6 L232.8,548.3 L234.3,548.0 L235.8,547.6 L237.3,547.3 L238.9,547.0 L240.4,546.7 L241.9,546.4 L243.4,546.1 L244.9,545.8 L246.4,545.5 L247.9,545.2 L249.4,544.9 L250.9,544.6 L252.4,544.3 L253.9,543.9 L255.4,543.6 L256.9,543.3 L258.4,543.0 L260.0,542.7 L261.5,542.4 L263.0,542.1 L264.5,541.8 L266.0,541.5 L267.5,541.2 L269.0,540.9 L270.5,540.6 L272.0,540.3 L273.5,540.0 L275.0,539.7 L276.5,539.4 L278.0,539.1 L279.6,538.8 L281.1,538.5 L282.6,538.2 L284.1,537.9 L285.6,537.6 L287.1,537.3 L288.6,537.0 L290.1,536.7 L291.6,536.4 L293.1,536.1 L294.6,535.8 L296.1,535.6 L297.6,535.3 L299.2,535.0 L300.7,534.7 L302.2,534.4 L303.7,534.1 L305.2,533.8 L306.7,533.5 L308.2,533.2 L309.7,532.9 L311.2,532.6 L312.7,532.3 L314.3,532.0 L315.8,531.7 L317.3,531.4 L318.8,531.2 L320.3,530.9 L321.8,530.6 L323.3,530.3 L324.8,530.0 L326.4,529.7 L327.9,529.4 L329.4,529.1 L330.9,528.8 L332.4,528.5 L333.9,528.2 L335.4,528.0 L337.0,527.7 L338.5,527.4 L340.0,527.1 L341.5,526.8 L343.0,526.5 L344.5,526.2 L346.1,525.9 L347.6,525.6 L349.1,525.4 L350.6,525.1 L352.1,524.8 L353.7,524.5 L355.2,524.2 L356.7,523.9 L358.2,523.6 L359.7,523.3 L361.3,523.0 L362.8,522.8 L364.3,522.5 L365.8,522.2 L367.4,521.9 L368.9,521.6 L370.4,521.3 L371.9,521.0 L373.5,520.7 L375.0,520.4 L376.5,520.1 L378.0,519.9 L379.6,519.6 L381.1,519.3 L382.6,519.0 L384.2,518.7 L385.7,518.4 L387.2,518.1 L388.8,517.8 L390.3,517.5 L391.8,517.2 L393.4,517.0 L394.9,516.7 L396.4,516.4 L398.0,516.1 L399.5,515.8 L401.0,515.5 L402.6,515.2 L404.1,514.9 L405.6,514.6 L407.2,514.3 L408.7,514.0 L410.2,513.7 L411.8,513.4 L413.3,513.1 L414.9,512.8 L416.4,512.5 L417.9,512.2 L419.5,511.9 L421.0,511.6 L422.5,511.3 L424.1,511.0 L425.6,510.7 L427.1,510.4 L428.7,510.1 L430.2,509.7 L431.8,509.4 L433.3,509.1 L434.8,508.8 L436.4,508.5 L437.9,508.2 L439.4,507.8 L441.0,507.5 L442.5,507.2 L444.0,506.9 L445.6,506.5 L447.1,506.2 L448.6,505.9 L450.1,505.5 L451.7,505.2 L453.2,504.9 L454.7,504.5 L456.3,504.2 L457.8,503.8 L459.3,503.5 L460.8,503.1 L462.4,502.8 L463.9,502.4 L465.4,502.1 L466.9,501.7 L468.5,501.4 L470.0,501.0 L471.5,500.7 L473.0,500.3 L474.5,499.9 L476.1,499.5 L477.6,499.2 L479.1,498.8 L480.6,498.4 L482.1,498.0 L483.6,497.7 L485.1,497.3 L486.6,496.9 L488.2,496.5 L489.7,496.1 L491.2,495.7 L492.7,495.3 L494.2,494.9 L495.7,494.5 L497.2,494.1 L498.7,493.7 L500.2,493.2 L501.7,492.8 L503.2,492.4 L504.7,492.0 L506.2,491.5 L507.7,491.1 L509.2,490.7 L510.6,490.2 L512.1,489.8 L513.6,489.3 L515.1,488.9 L516.6,488.4 L518.1,488.0 L519.5,487.5 L521.0,487.1 L522.5,486.6 L524.0,486.1 L525.4,485.6 L526.9,485.2 L528.4,484.7 L529.8,484.2 L531.3,483.7 L532.8,483.2 L534.2,482.7 L535.7,482.2 L537.2,481.7 L538.6,481.2 L540.1,480.7 L541.5,480.1 L543.0,479.6 L544.4,479.1 L545.9,478.5 L547.3,478.0 L548.7,477.5 L550.2,476.9 L551.6,476.4 L553.0,475.8 L554.5,475.3 L555.9,474.7 L557.3,474.1 L558.8,473.5 L560.2,473.0 L561.6,472.4 L563.0,471.8 L564.4,471.2 L565.8,470.6 L567.3,470.0 L568.7,469.4 L570.1,468.8 L571.5,468.2 L572.9,467.5 L574.3,466.9 L575.7,466.3 L577.1,465.6 L578.5,465.0 L579.8,464.3 L581.2,463.7 L582.6,463.0 L584.0,462.4 L585.4,461.7 L586.7,461.0 L588.1,460.4 L589.5,459.7 L590.9,459.0 L592.2,458.3 L593.6,457.6 L595.0,456.9 L596.3,456.2 L597.7,455.5 L599.0,454.8 L600.4,454.1 L601.7,453.4 L603.1,452.6 L604.4,451.9 L605.8,451.2 L607.1,450.4 L608.5,449.7 L609.8,449.0 L611.1,448.2 L612.5,447.5 L613.8,446.7 L615.1,445.9 L616.5,445.2 L617.8,444.4 L619.1,443.6 L620.4,442.9 L621.8,442.1 L623.1,441.3 L624.4,440.5 L625.7,439.7 L627.0,438.9 L628.3,438.1 L629.6,437.3 L630.9,436.5 L632.3,435.7 L633.6,434.9 L634.9,434.1 L636.2,433.3 L637.5,432.4 L638.7,431.6 L640.0,430.8 L641.3,429.9 L642.6,429.1 L643.9,428.3 L645.2,427.4 L646.5,426.6 L647.8,425.7 L649.0,424.9 L650.3,424.0 L651.6,423.1 L652.9,422.3 L654.1,421.4 L655.4,420.5 L656.7,419.7 L658.0,418.8 L659.2,417.9 L660.5,417.0 L661.8,416.1 L663.0,415.3 L664.3,414.4 L665.5,413.5 L666.8,412.6 L668.1,411.7 L669.3,410.8 L670.6,409.9 L671.8,409.0 L673.1,408.0 L674.3,407.1 L675.6,406.2 L676.8,405.3 L678.0,404.4 L679.3,403.4 L680.5,402.5 L681.8,401.6 L683.0,400.7 L684.2,399.7 L685.5,398.8 L686.7,397.8 L687.9,396.9 L689.2,396.0 L690.4,395.0 L691.6,394.1 L692.9,393.1 L694.1,392.2 L695.3,391.2 L696.5,390.2 L697.8,389.3 L699.0,388.3 L700.2,387.4 L701.4,386.4 L702.6,385.4 L703.8,384.4 L705.1,383.5 L706.3,382.5 L707.5,381.5 L708.7,380.5 L709.9,379.6 L711.1,378.6 L712.3,377.6 L713.5,376.6 L714.7,375.6 L715.9,374.6 L717.1,373.6 L718.3,372.7 L719.5,371.7 L720.7,370.7 L721.9,369.7 L723.1,368.7 L724.3,367.7 L725.5,366.7 L726.7,365.7 L727.9,364.7 L729.1,363.6 L730.3,362.6 L731.5,361.6 L732.7,360.6 L733.9,359.6 L735.1,358.6 L736.2,357.6 L737.4,356.6 L738.6,355.5 L739.8,354.5 L741.0,353.5 L742.2,352.5 L743.4,351.5 L744.5,350.4 L745.7,349.4 L746.9,348.4 L748.1,347.4 L749.3,346.3 L750.4,345.3 L751.6,344.3 L752.8,343.2 L754.0,342.2 L755.1,341.2 L756.3,340.1 L757.5,339.1 L758.6,338.1 L759.8,337.0 L761.0,336.0 L762.2,335.0 L763.3,333.9 L764.5,332.9 L765.7,331.9 L766.8,330.8 L768.0,329.8 L769.2,328.7 L770.3,327.7 L771.5,326.7 L772.7,325.6 L773.8,324.6 L775.0,323.5 L776.2,322.5 L777.3,321.5 L778.5,320.4 L779.7,319.4 L780.8,318.3 L782.0,317.3 L783.1,316.2 L784.3,315.2 L785.5,314.2 L786.6,313.1 L787.8,312.1 L788.9,311.0 L790.1,310.0 L791.3,308.9 L792.4,307.9 L793.6,306.8 L794.7,305.8 L795.9,304.8 L797.0,303.7 L798.2,302.7 L799.4,301.6 L800.5,300.6 L801.7,299.5 L802.8,298.5 L804.0,297.5 L805.1,296.4 L806.3,295.4 L807.5,294.3 L808.6,293.3 L809.8,292.3 L810.9,291.2 L812.1,290.2 L813.2,289.1 L814.4,288.1 L815.5,287.1 L816.7,286.0 L817.9,285.0 L819.0,284.0 L820.2,282.9 L821.3,281.9 L822.5,280.9 L823.6,279.8 L824.8,278.8 L825.9,277.8 L827.1,276.7 L828.2,275.7 L829.4,274.7 L830.5,273.6 L831.7,272.6 L832.8,271.6 L834.0,270.5 L835.1,269.5 L836.3,268.5 L837.4,267.4 L838.6,266.4 L839.8,265.4 L840.9,264.3 L842.0,263.3 L843.2,262.3 L844.3,261.3 L845.5,260.2 L846.6,259.2 L847.8,258.2 L848.9,257.1 L850.1,256.1 L851.2,255.1 L852.4,254.0 L853.5,253.0 L854.7,252.0 L855.8,251.0 L857.0,249.9 L858.1,248.9 L859.3,247.9 L860.4,246.8 L861.5,245.8 L862.7,244.8 L863.8,243.7 L865.0,242.7 L866.1,241.7 L867.3,240.6 L868.4,239.6 L869.5,238.6 L870.7,237.5 L871.8,236.5 L873.0,235.5 L874.1,234.4 L875.2,233.4 L876.4,232.4 L877.5,231.3 L878.6,230.3 L879.8,229.3 L880.9,228.2 L882.0,227.2 L883.2,226.2 L884.3,225.1 L885.4,224.1 L886.6,223.0 L887.7,222.0 L888.8,221.0 L890.0,219.9 L891.1,218.9 L892.2,217.8 L893.4,216.8 L894.5,215.8 L895.6,214.7 L896.7,213.7 L897.9,212.6 L899.0,211.6 L900.1,210.5 L901.2,209.5 L902.4,208.4 L903.5,207.4 L904.6,206.3 L905.7,205.3 L906.9,204.2 L908.0,203.2 L909.1,202.1 L910.2,201.1 L911.3,200.0 L912.4,199.0 L913.6,197.9 L914.7,196.9 L915.8,195.8 L916.9,194.7 L918.0,193.7 L919.1,192.6 L920.2,191.6 L921.4,190.5 L922.5,189.4 L923.6,188.4 L924.7,187.3 L925.8,186.2 L926.9,185.2 L928.0,184.1 L929.1,183.0 L930.2,182.0 L931.3,180.9 L932.4,179.8 L933.5,178.7 L934.6,177.7 L935.7,176.6 L936.8,175.5 L937.9,174.4 L939.0,173.4 L940.1,172.3 L941.2,171.2 L942.3,170.1 L943.4,169.0 L944.5,167.9 L945.6,166.8 L946.7,165.8 L947.8,164.7 L948.8,163.6 L949.9,162.5 L951.0,161.4 L952.1,160.3 L953.2,159.2 L954.3,158.1 L955.4,157.0 L956.4,155.9 L957.5,154.8 L958.6,153.7 L959.7,152.6 L960.8,151.5 L961.8,150.3 L962.9,149.2 L964.0,148.1 L965.0,147.0 L966.1,145.9 L967.2,144.8 L968.3,143.7 L969.3,142.5 L970.4,141.4 L971.5,140.3 L972.5,139.2 L973.6,138.0 L974.7,136.9 L975.7,135.8 L976.8,134.6 L977.8,133.5 L978.9,132.4 L979.9,131.2 L981.0,130.1 L982.1,128.9 L983.1,127.8 L984.2,126.6 L985.2,125.5 L986.3,124.3 L987.3,123.2 L988.4,122.0 L989.4,120.9 L990.4,119.7 L991.5,118.5 L992.5,117.4 L993.6,116.2 L994.6,115.0 L995.7,113.9 L996.7,112.7 L997.7,111.5 L998.8,110.4 L999.8,109.2 L1000.8,108.0 L1001.9,106.8 L1002.9,105.6 L1003.9,104.4 L1004.9,103.3 L1006.0,102.1 L1007.0,100.9 L1008.0,99.7 L1009.0,98.5 L1010.0,97.3 L1011.1,96.1 L1012.1,94.9 L1013.1,93.7 L1014.1,92.4 L1015.1,91.2 L1016.1,90.0 L1017.1,88.8 L1018.1,87.6 L1019.1,86.4 L1020.2,85.1 L1021.2,83.9" stroke="#ff00ff" stroke-linecap="round"/>
<path d="M148.6,86.5 L148.3,88.3 L148.3,89.9 L148.4,91.5 L148.7,93.0 L149.2,94.4 L149.8,95.7 L150.6,97.0 L151.4,98.2 L152.3,99.4 L153.2,100.6 L154.1,101.9 L155.0,103.1 L155.9,104.4 L156.7,105.6 L157.6,106.9 L158.4,108.2 L159.2,109.5 L160.1,110.8 L160.9,112.1 L161.7,113.4 L162.5,114.7 L163.4,116.0 L164.2,117.3 L165.0,118.6 L165.9,119.9 L166.7,121.1 L167.6,122.4 L168.4,123.7 L169.3,125.0 L170.2,126.2 L171.0,127.5 L171.9,128.8 L172.8,130.0 L173.7,131.3 L174.6,132.5 L175.5,133.7 L176.4,135.0 L177.3,136.2 L178.2,137.4 L179.2,138.7 L180.1,139.9 L181.0,141.1 L182.0,142.3 L182.9,143.5 L183.8,144.7 L184.8,145.9 L185.8,147.1 L186.7,148.3 L187.7,149.5 L188.7,150.7 L189.6,151.8 L190.6,153.0 L191.6,154.2 L192.6,155.4 L193.6,156.5 L194.6,157.7 L195.6,158.8 L196.6,160.0 L197.6,161.1 L198.6,162.3 L199.6,163.4 L200.6,164.6 L201.6,165.7 L202.7,166.8 L203.7,168.0 L204.7,169.1 L205.8,170.2 L206.8,171.4 L207.8,172.5 L208.9,173.6 L209.9,174.7 L211.0,175.8 L212.0,176.9 L213.1,178.0 L214.2,179.1 L215.2,180.2 L216.3,181.3 L217.3,182.4 L218.4,183.5 L219.5,184.6 L220.6,185.7 L221.6,186.8 L222.7,187.9 L223.8,189.0 L224.9,190.0 L226.0,191.1 L227.1,192.2 L228.1,193.3 L229.2,194.3 L230.3,195.4 L231.4,196.5 L232.5,197.5 L233.6,198.6 L234.7,199.7 L235.8,200.7 L236.9,201.8 L238.0,202.8 L239.2,203.9 L240.3,205.0 L241.4,206.0 L242.5,207.1 L243.6,208.1 L244.7,209.1 L245.9,210.2 L247.0,211.2 L248.1,212.3 L249.2,213.3 L250.3,214.4 L251.5,215.4 L252.6,216.4 L253.7,217.5 L254.9,218.5 L256.0,219.5 L257.1,220.6 L258.3,221.6 L259.4,222.6 L260.5,223.7 L261.7,224.7 L262.8,225.7 L264.0,226.7 L265.1,227.8 L266.2,228.8 L267.4,229.8 L268.5,230.8 L269.7,231.9 L270.8,232.9 L272.0,233.9 L273.1,234.9 L274.3,235.9 L275.4,237.0 L276.6,238.0 L277.7,239.0 L278.9,240.0 L280.0,241.0 L281.2,242.0 L282.3,243.1 L283.5,244.1 L284.6,245.1 L285.8,246.1 L286.9,247.1 L288.1,248.1 L289.2,249.2 L290.4,250.2 L291.5,251.2 L292.7,252.2 L293.8,253.2 L295.0,254.2 L296.2,255.2 L297.3,256.3 L298.5,257.3 L299.6,258.3 L300.8,259.3 L301.9,260.3 L303.1,261.3 L304.2,262.4 L305.4,263.4 L306.5,264.4 L307.7,265.4 L308.8,266.4 L310.0,267.5 L311.1,268.5 L312.3,269.5 L313.4,270.5 L314.6,271.5 L315.7,272.6 L316.8,273.6 L318.0,274.6 L319.1,275.6 L320.3,276.7 L321.4,277.7 L322.6,278.7 L323.7,279.7 L324.8,280.8 L326.0,281.8 L327.1,282.8 L328.3,283.9 L329.4,284.9 L330.5,285.9 L331.7,287.0 L332.8,288.0 L333.9,289.0 L335.1,290.1 L336.2,291.1 L337.4,292.1 L338.5,293.2 L339.6,294.2 L340.8,295.2 L341.9,296.3 L343.0,297.3 L344.2,298.3 L345.3,299.4 L346.4,300.4 L347.6,301.4 L348.7,302.5 L349.8,303.5 L351.0,304.5 L352.1,305.6 L353.2,306.6 L354.4,307.6 L355.5,308.7 L356.6,309.7 L357.7,310.8 L358.9,311.8 L360.0,312.8 L361.1,313.9 L362.3,314.9 L363.4,315.9 L364.5,317.0 L365.7,318.0 L366.8,319.0 L367.9,320.1 L369.1,321.1 L370.2,322.1 L371.3,323.2 L372.5,324.2 L373.6,325.2 L374.7,326.3 L375.9,327.3 L377.0,328.3 L378.1,329.3 L379.3,330.4 L380.4,331.4 L381.6,332.4 L382.7,333.5 L383.8,334.5 L385.0,335.5 L386.1,336.5 L387.2,337.6 L388.4,338.6 L389.5,339.6 L390.7,340.6 L391.8,341.6 L392.9,342.7 L394.1,343.7 L395.2,344.7 L396.4,345.7 L397.5,346.7 L398.7,347.8 L399.8,348.8 L401.0,349.8 L402.1,350.8 L403.3,351.8 L404.4,352.8 L405.6,353.8 L406.7,354.8 L407.9,355.8 L409.0,356.8 L410.2,357.9 L411.3,358.9 L412.5,359.9 L413.6,360.9 L414.8,361.9 L415.9,362.9 L417.1,363.8 L418.3,364.8 L419.4,365.8 L420.6,366.8 L421.8,367.8 L422.9,368.8 L424.1,369.8 L425.3,370.8 L426.4,371.8 L427.6,372.7 L428.8,373.7 L429.9,374.7 L431.1,375.7 L432.3,376.7 L433.5,377.6 L434.6,378.6 L435.8,379.6 L437.0,380.6 L438.2,381.5 L439.4,382.5 L440.6,383.4 L441.7,384.4 L442.9,385.4 L444.1,386.3 L445.3,387.3 L446.5,388.2 L447.7,389.2 L448.9,390.1 L450.1,391.1 L451.3,392.0 L452.5,393.0 L453.7,393.9 L454.9,394.9 L456.1,395.8 L457.3,396.8 L458.5,397.7 L459.7,398.6 L460.9,399.6 L462.2,400.5 L463.4,401.4 L464.6,402.4 L465.8,403.3 L467.0,404.2 L468.2,405.1 L469.5,406.1 L470.7,407.0 L471.9,407.9 L473.1,408.8 L474.3,409.7 L475.6,410.7 L476.8,411.6 L478.0,412.5 L479.2,413.4 L480.5,414.3 L481.7,415.2 L482.9,416.2 L484.2,417.1 L485.4,418.0 L486.6,418.9 L487.9,419.8 L489.1,420.7 L490.4,421.6 L491.6,422.5 L492.8,423.4 L494.1,424.3 L495.3,425.2 L496.6,426.2 L497.8,427.1 L499.1,428.0 L500.3,428.9 L501.6,429.8 L502.8,430.7 L504.0,431.6 L505.3,432.5 L506.6,433.4 L507.8,434.3 L509.1,435.2 L510.3,436.1 L511.6,437.0 L512.8,437.9 L514.1,438.8 L515.3,439.7 L516.6,440.5 L517.9,441.4 L519.1,442.3 L520.4,443.2 L521.6,444.1 L522.9,445.0 L524.2,445.9 L525.4,446.7 L526.7,447.6 L528.0,448.5 L529.3,449.4 L530.5,450.2 L531.8,451.1 L533.1,452.0 L534.4,452.8 L535.7,453.7 L536.9,454.5 L538.2,455.4 L539.5,456.2 L540.8,457.1 L542.1,457.9 L543.4,458.7 L544.7,459.6 L546.0,460.4 L547.3,461.2 L548.6,462.0 L549.9,462.8 L551.2,463.6 L552.5,464.4 L553.8,465.2 L555.2,466.0 L556.5,466.8 L557.8,467.5 L559.1,468.3 L560.5,469.1 L561.8,469.8 L563.1,470.6 L564.4,471.3 L565.8,472.0 L567.1,472.8 L568.5,473.5 L569.8,474.2 L571.2,474.9 L572.5,475.6 L573.9,476.3 L575.2,477.0 L576.6,477.7 L578.0,478.3 L579.3,479.0 L580.7,479.7 L582.1,480.3 L583.4,481.0 L584.8,481.6 L586.2,482.2 L587.6,482.9 L589.0,483.5 L590.4,484.1 L591.7,484.7 L593.1,485.3 L594.5,485.9 L595.9,486.5 L597.3,487.1 L598.7,487.7 L600.1,488.3 L601.5,488.8 L602.9,489.4 L604.4,490.0 L605.8,490.5 L607.2,491.1 L608.6,491.6 L610.0,492.1 L611.4,492.7 L612.9,493.2 L614.3,493.7 L615.7,494.2 L617.2,494.8 L618.6,495.3 L620.0,495.8 L621.5,496.3 L622.9,496.8 L624.3,497.2 L625.8,497.7 L627.2,498.2 L628.7,498.7 L630.1,499.2 L631.6,499.6 L633.0,500.1 L634.5,500.5 L635.9,501.0 L637.4,501.4 L638.9,501.9 L640.3,502.3 L641.8,502.8 L643.2,503.2 L644.7,503.6 L646.2,504.0 L647.6,504.5 L649.1,504.9 L650.6,505.3 L652.1,505.7 L653.5,506.1 L655.0,506.5 L656.5,506.9 L658.0,507.3 L659.4,507.7 L660.9,508.1 L662.4,508.5 L663.9,508.9 L665.4,509.2 L666.9,509.6 L668.3,510.0 L669.8,510.4 L671.3,510.7 L672.8,511.1 L674.3,511.5 L675.8,511.8 L677.3,512.2 L678.8,512.5 L680.3,512.9 L681.8,513.2 L683.3,513.6 L684.8,513.9 L686.3,514.3 L687.8,514.6 L689.3,514.9 L690.8,515.3 L692.3,515.6 L693.8,515.9 L695.3,516.3 L696.8,516.6 L698.3,516.9 L699.8,517.2 L701.3,517.6 L702.8,517.9 L704.3,518.2 L705.8,518.5 L707.3,518.8 L708.9,519.1 L710.4,519.5 L711.9,519.8 L713.4,520.1 L714.9,520.4 L716.4,520.7 L717.9,521.0 L719.4,521.3 L721.0,521.6 L722.5,521.9 L724.0,522.2 L725.5,522.5 L727.0,522.8 L728.5,523.1 L730.0,523.4 L731.6,523.7 L733.1,524.0 L734.6,524.3 L736.1,524.6 L737.6,524.9 L739.1,525.2 L740.6,525.5 L742.2,525.8 L743.7,526.1 L745.2,526.4 L746.7,526.7 L748.2,527.0 L749.7,527.3 L751.3,527.5 L752.8,527.8 L754.3,528.1 L755.8,528.4 L757.3,528.7 L758.8,529.0 L760.3,529.3 L761.8,529.6 L763.4,529.9 L764.9,530.2 L766.4,530.5 L767.9,530.8 L769.4,531.1 L770.9,531.4 L772.4,531.7 L773.9,532.0 L775.4,532.3 L777.0,532.6 L778.5,532.9 L780.0,533.2 L781.5,533.6 L783.0,533.9 L784.5,534.2 L786.0,534.5 L787.5,534.8 L789.0,535.1 L790.5,535.4 L792.0,535.7 L793.5,536.1 L795.0,536.4 L796.5,536.7 L798.0,537.0 L799.5,537.3 L801.0,537.7 L802.5,538.0 L804.0,538.3 L805.5,538.6 L807.0,539.0 L808.5,539.3 L810.0,539.6 L811.5,539.9 L813.0,540.3 L814.5,540.6 L816.0,541.0 L817.5,541.3 L819.0,541.6 L820.5,542.0 L821.9,542.3 L823.4,542.6 L824.9,543.0 L826.4,543.3 L827.9,543.7 L829.4,544.0 L830.9,544.4 L832.4,544.7 L833.9,545.1 L835.3,545.4 L836.8,545.8 L838.3,546.2 L839.8,546.5 L841.3,546.9 L842.8,547.2 L844.3,547.6 L845.7,548.0 L847.2,548.3 L848.7,548.7 L850.2,549.1 L851.7,549.4 L853.1,549.8 L854.6,550.2 L856.1,550.6 L857.6,551.0 L859.0,551.3 L860.5,551.7 L862.0,552.1 L863.5,552.5 L864.9,552.9 L866.4,553.3 L867.9,553.7 L869.4,554.1 L870.8,554.5 L872.3,554.9 L873.8,555.3 L875.2,555.7 L876.7,556.1 L878.2,556.5 L879.7,556.9 L881.1,557.3 L882.6,557.7 L884.1,558.1 L885.5,558.5 L887.0,559.0 L888.4,559.4 L889.9,559.8 L891.4,560.2 L892.8,560.7 L894.3,561.1 L895.8,561.5 L897.2,562.0 L898.7,562.4 L900.1,562.8 L901.6,563.3 L903.0,563.7 L904.5,564.2 L906.0,564.6 L907.4,565.1 L908.9,565.5 L910.3,566.0 L911.8,566.5 L913.2,566.9 L914.7,567.4 L916.1,567.8 L917.6,568.3 L919.0,568.8 L920.5,569.3 L921.9,569.7 L923.4,570.2 L924.8,570.7 L926.3,571.2 L927.7,571.7 L929.1,572.2 L930.6,572.7 L932.0,573.1 L933.5,573.6 L934.9,574.2 L936.3,574.7 L937.8,575.2 L939.2,575.7 L940.7,576.2 L942.1,576.8 L943.5,577.3 L944.9,577.8 L946.4,578.4 L947.8,579.0 L949.2,579.6 L950.6,580.1 L952.0,580.7 L953.5,581.4 L954.9,582.0 L956.3,582.6 L957.7,583.3 L959.1,584.0 L960.5,584.6 L961.8,585.3 L963.2,586.1 L964.6,586.8 L966.0,587.5 L967.4,588.3 L968.7,589.1 L970.1,589.9 L971.4,590.7 L972.8,591.6 L974.1,592.5 L975.4,593.4 L976.7,594.3 L978.0,595.2 L979.2,596.2 L980.5,597.1 L981.7,598.1 L982.8,599.1 L984.0,600.2 L985.1,601.3 L986.2,602.3 L987.2,603.5 L988.2,604.6 L989.2,605.7 L990.2,606.9 L991.0,608.1 L991.9,609.4 L992.7,610.6 L993.5,611.9 L994.2,613.2 L995.0,614.5 L995.6,615.8 L996.3,617.1 L996.9,618.5 L997.5,619.9 L998.1,621.3 L998.6,622.7 L999.1,624.1 L999.6,625.5 L1000.0,627.0 L1000.5,628.4 L1000.9,629.9 L1001.3,631.4 L1001.7,632.8 L1002.0,634.3 L1002.4,635.8 L1002.7,637.4 L1003.0,638.9 L1003.3,640.4 L1003.6,641.9 L1003.8,643.5 L1004.1,645.0 L1004.3,646.5 L1004.6,648.1 L1004.8,649.6 L1005.0,651.2 L1005.2,652.7 L1005.5,654.2 L1005.7,655.8 L1005.9,657.3 L1006.1,658.9 L1006.3,660.4 L1006.5,661.9 L1006.6,663.5 L1006.8,665.0 L1007.0,666.5 L1007.2,668.1 L1007.3,669.6 L1007.5,671.1 L1007.7,672.7 L1007.8,674.2 L1008.0,675.7 L1008.1,677.3 L1008.3,678.8 L1008.4,680.3 L1008.5,681.9 L1008.7,683.4 L1008.8,684.9 L1008.9,686.5 L1009.0,688.0 L1009.2,689.5 L1009.3,691.0 L1009.4,692.6 L1009.5,694.1 L1009.6,695.6 L1009.7,697.1 L1009.8,698.7 L1009.9,700.2 L1010.0,701.7 L1010.1,703.2 L1010.2,704.8 L1010.3,706.3 L1010.4,707.8 L1010.4,709.3 L1010.5,710.9 L1010.6,712.4 L1010.7,713.9 L1010.8,715.4 L1010.8,717.0 L1010.9,718.5 L1011.0,720.0 L1011.0,721.5 L1011.1,723.0 L1011.1,724.6 L1011.2,726.1 L1011.3,727.6 L1011.3,729.1 L1011.4,730.7 L1011.4,732.2 L1011.5,733.7 L1011.5,735.2 L1011.6,736.7 L1011.6,738.3 L1011.7,739.8 L1011.7,741.3 L1011.8,742.8 L1011.8,744.4 L1011.8,745.9 L1011.9,747.4 L1011.9,748.9 L1012.0,750.4 L1012.0,752.0 L1012.0,753.5 L1012.1,755.0 L1012.1,756.5 L1012.1,758.1 L1012.2,759.6 L1012.2,761.1 L1012.3,762.6 L1012.3,764.2 L1012.3,765.7 L1012.4,767.2 L1012.4,768.7 L1012.4,770.3 L1012.5,771.8 L1012.5,773.3 L1012.5,774.8 L1012.6,776.4 L1012.6,777.9 L1012.7,779.4 L1012.7,780.9 L1012.7,782.5 L1012.8,784.0 L1012.8,785.5 L1012.9,787.1 L1012.9,788.6 L1013.0,790.1 L1013.0,791.6 L1013.0,793.2 L1013.1,794.7 L1013.1,796.2 L1013.2,797.8 L1013.2,799.3 L1013.3,800.8 L1013.4,802.4 L1013.4,803.9 L1013.5,805.4 L1013.5,807.0 L1013.6,808.5 L1013.6,810.1 L1013.7,811.6 L1013.8,813.1 L1013.8,814.7 L1013.9,816.2 L1014.0,817.8 L1014.0,819.3 L1014.1,820.8 L1014.2,822.4 L1014.2,823.9 L1014.3,825.5 L1014.4,827.0 L1014.5,828.5 L1014.5,830.1 L1014.6,831.6 L1014.7,833.2 L1014.8,834.7 L1014.8,836.2 L1014.9,837.8 L1015.0,839.3 L1015.1,840.9 L1015.1,842.4 L1015.2,844.0 L1015.3,845.5 L1015.4,847.1 L1015.4,848.6 L1015.5,850.1 L1015.6,851.7 L1015.7,853.2 L1015.7,854.8 L1015.8,856.3 L1015.9,857.9 L1016.0,859.4 L1016.0,860.9 L1016.1,862.5 L1016.2,864.0 L1016.3,865.6 L1016.3,867.1 L1016.4,868.7 L1016.5,870.2 L1016.5,871.8 L1016.6,873.3 L1016.7,874.8 L1016.7,876.4 L1016.8,877.9 L1016.9,879.5 L1016.9,881.0 L1017.0,882.6 L1017.1,884.1 L1017.1,885.6 L1017.2,887.2 L1017.3,888.7 L1017.3,890.3 L1017.4,891.8 L1017.4,893.3 L1017.5,894.9 L1017.5,896.4 L1017.6,897.9 L1017.6,899.5 L1017.7,901.0 L1017.7,902.6 L1017.8,904.1 L1017.8,905.6 L1017.8,907.2 L1017.9,908.7 L1017.9,910.2 L1018.0,911.8 L1018.0,913.3 L1018.0,914.8 L1018.1,916.4 L1018.1,917.9 L1018.1,919.4 L1018.1,921.0 L1018.1,922.5 L1018.2,924.0 L1018.2,925.5 L1018.2,927.1 L1018.2,928.6 L1018.2,930.1 L1018.2,931.6 L1018.2,933.2 L1018.2,934.7 L1018.2,936.2 L1018.2,937.7 L1018.2,939.3 L1018.2,940.8 L1018.2,942.3 L1018.1,943.8 L1018.1,945.3 L1018.1,946.8 L1018.1,948.4 L1018.0,949.9 L1018.0,951.4 L1018.0,952.9 L1017.9,954.4 L1017.9,955.9 L1017.8,957.4 L1017.8,958.9" stroke="#ff00ff" stroke-linecap="butt"/>
</g>
<rect x="150.3" y="766.5" width="701" height="185.9" fill="#fff"/>
<g stroke="#c9c9c9" stroke-width="3" fill="none">
<line x1="151.8" y1="768" x2="151.8" y2="954.6"/>
<line x1="306.5" y1="768" x2="306.5" y2="954.6"/>
<line x1="479.7" y1="768" x2="479.7" y2="954.6"/>
<line x1="652.6" y1="768" x2="652.6" y2="954.6"/>
<line x1="850" y1="768" x2="850" y2="954.6"/>
<line x1="150.3" y1="893.3" x2="851" y2="893.3"/>
</g>
<g stroke="#000" stroke-width="4">
<line x1="150.3" y1="768.2" x2="851.5" y2="768.2"/>
<line x1="150.3" y1="830.6" x2="851.5" y2="830.6"/>
</g>
</svg>
</div>
<svg width="1280" height="1084" viewBox="0 0 1280 1084">
<g font-size="37.5" fill="#000" text-anchor="end">
<text x="108.3" y="968.1">3.0</text><text x="108.3" y="851.8">3.2</text><text x="108.3" y="735.6">3.4</text><text x="108.3" y="619.3">3.6</text><text x="108.3" y="503.0">3.8</text><text x="108.3" y="386.7">4.0</text><text x="108.3" y="270.4">4.2</text><text x="108.3" y="154.2">4.4</text><text x="108.3" y="37.9">4.6</text>
</g>
<g font-size="38" fill="#000" text-anchor="middle">
<text x="147.5" y="1022.3">0</text><text x="366.9" y="1022.3">50</text><text x="586.3" y="1022.3">100</text><text x="805.7" y="1022.3">150</text><text x="1025.1" y="1022.3">200</text><text x="1244.5" y="1022.3">250</text>
</g>
<text transform="translate(378.76,815.90) scale(0.9360,1)" font-size="43.0" fill="#000">D</text>
<text transform="translate(558.39,815.90) scale(0.8526,1)" font-size="43.0" fill="#000">L</text>
<text transform="translate(700.56,815.80) scale(0.8193,1)" font-size="43.0" fill="#000">CE, %</text>
<text transform="translate(162.52,879.30) scale(0.9396,1)" font-size="43.0" fill="#3333ff">Cycle 1</text>
<text transform="translate(360.85,879.20) scale(0.9250,1)" font-size="43.0" fill="#3333ff">219</text>
<text transform="translate(533.82,879.20) scale(0.9254,1)" font-size="43.0" fill="#3333ff">198</text>
<text transform="translate(712.95,879.20) scale(0.9225,1)" font-size="43.0" fill="#3333ff">90.1</text>
<text transform="translate(162.52,941.30) scale(0.9396,1)" font-size="43.0" fill="#ff00ff">Cycle 2</text>
<text transform="translate(359.93,941.30) scale(0.9239,1)" font-size="43.0" fill="#ff00ff">199</text>
<text transform="translate(533.82,941.60) scale(0.9254,1)" font-size="43.0" fill="#ff00ff">198</text>
<text transform="translate(712.99,941.60) scale(0.9062,1)" font-size="43.0" fill="#ff00ff">99.7</text>
<text transform="translate(551.06,1070.50) scale(1.0185,1)" font-size="36.3" fill="#000">Capacity,</text>
<text transform="translate(710.99,1070.50) scale(1.0543,1)" font-size="36.3" fill="#000">mAh</text>
<text transform="translate(797.29,1070.50) scale(1.0531,1)" font-size="36.3" fill="#000">g</text>
<text transform="translate(818.37,1058.30) scale(1.0333,1)" font-size="24.5" fill="#000">-</text>
<text transform="translate(826.81,1058.10) scale(0.9682,1)" font-size="24.5" fill="#000">1</text>
<text transform="translate(34.60,649.00) rotate(-90) scale(1.0273,1)" font-size="36.9" fill="#000">Voltage</text>
<text transform="translate(34.60,512.70) rotate(-90) scale(0.8977,1)" font-size="36.9" fill="#000">vs.</text>
<text transform="translate(34.60,459.30) rotate(-90) scale(1.0016,1)" font-size="36.9" fill="#000">Li/Li</text>
<text transform="translate(20.90,389.45) rotate(-90) scale(0.9545,1)" font-size="22.0" fill="#000">+</text>
<text transform="translate(34.60,379.58) rotate(-90) scale(1.3250,1)" font-size="36.9" fill="#000">,</text>
<text transform="translate(34.60,356.00) rotate(-90) scale(0.8750,1)" font-size="36.9" fill="#000">V</text>
</svg>
</body></html>
